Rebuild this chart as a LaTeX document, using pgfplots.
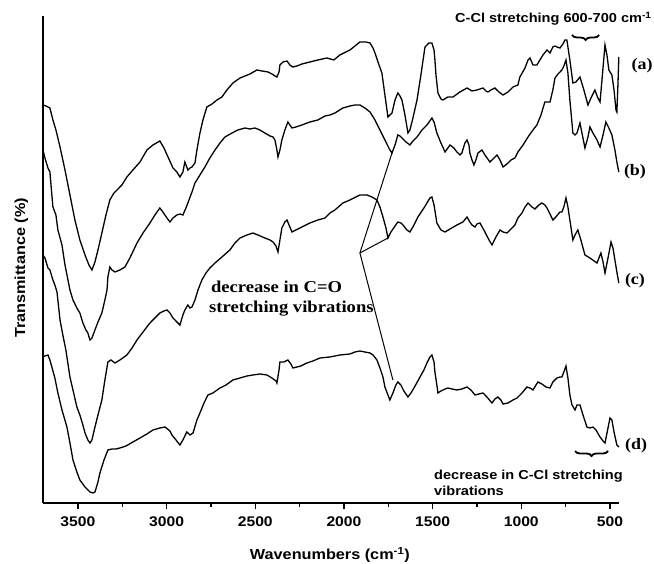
\documentclass[border=0pt]{standalone}
\usepackage{fontspec}
\setmainfont{Liberation Sans}[FakeStretch=1.12]
\newfontfamily\tms{Liberation Serif}[FakeStretch=1.12]
\usepackage{pgfplots}
\usepackage{pgfplotstable}
\pgfplotsset{compat=1.18}
\usetikzlibrary{decorations.pathreplacing}

\pgfplotstableread{
w t
3697 -105
3680 -106
3658 -108
3641 -120
3624 -130
3601 -147
3573 -170
3545 -195
3517 -220
3489 -240
3460 -255
3438 -265
3421 -270
3404 -262
3387 -250
3365 -233
3342 -215
3320 -200
3297 -193
3280 -190
3252 -185
3224 -177
3190 -170
3150 -162
3111 -150
3077 -145
3038 -141
3015 -148
2992 -157
2964 -168
2942 -172
2925 -177
2908 -172
2897 -162
2880 -170
2868 -168
2857 -167
2840 -163
2829 -150
2812 -133
2795 -120
2773 -107
2744 -104
2716 -100
2688 -97
2660 -90
2626 -83
2586 -78
2558 -76
2530 -74
2491 -70
2462 -71
2428 -72
2406 -74
2389 -76
2378 -77
2366 -72
2361 -65
2344 -62
2321 -61
2305 -65
2288 -67
2265 -66
2237 -64
2192 -62
2147 -60
2096 -58
2057 -60
2023 -55
1966 -50
1910 -42
1876 -42
1853 -43
1836 -48
1825 -53
1808 -62
1786 -73
1769 -95
1752 -117
1741 -115
1729 -113
1712 -100
1696 -93
1684 -96
1673 -100
1656 -115
1639 -133
1628 -130
1611 -118
1588 -100
1566 -75
1543 -47
1521 -43
1504 -43
1492 -50
1487 -60
1481 -75
1470 -93
1453 -99
1442 -100
1414 -97
1385 -97
1346 -92
1306 -88
1278 -91
1250 -90
1233 -89
1216 -88
1199 -91
1188 -92
1171 -90
1149 -88
1126 -92
1103 -95
1075 -92
1047 -87
1019 -85
1008 -77
979 -68
962 -60
951 -58
934 -65
912 -65
895 -60
878 -55
855 -50
838 -53
822 -47
810 -46
799 -47
782 -48
765 -44
754 -40
743 -40
737 -47
726 -60
709 -83
692 -82
669 -77
647 -90
624 -105
607 -98
585 -90
568 -98
556 -102
545 -80
528 -45
517 -55
506 -70
489 -75
477 -90
466 -110
461 -112
455 -85
450 -57
}\dataA

\pgfplotstableread{
w t
3697 -150
3686 -158
3669 -168
3658 -172
3647 -195
3641 -207
3624 -215
3613 -230
3590 -245
3573 -265
3545 -290
3528 -300
3506 -308
3489 -313
3472 -323
3455 -330
3444 -333
3432 -340
3421 -338
3404 -330
3387 -322
3365 -313
3348 -300
3336 -290
3331 -277
3320 -267
3308 -270
3291 -272
3263 -270
3235 -267
3207 -258
3167 -243
3133 -233
3094 -223
3066 -215
3038 -208
3021 -212
2998 -218
2981 -222
2964 -218
2942 -215
2925 -214
2908 -215
2891 -208
2880 -203
2857 -192
2840 -183
2812 -175
2784 -167
2756 -158
2727 -150
2699 -143
2671 -137
2631 -133
2598 -130
2558 -128
2530 -129
2502 -128
2474 -130
2446 -133
2417 -136
2400 -137
2389 -140
2378 -150
2372 -157
2361 -150
2350 -140
2333 -130
2316 -122
2305 -125
2293 -128
2271 -127
2237 -125
2192 -122
2147 -120
2107 -116
2079 -115
2051 -113
2006 -108
1966 -106
1938 -105
1910 -105
1882 -108
1853 -112
1825 -120
1797 -130
1769 -140
1741 -150
1729 -153
1712 -145
1696 -135
1684 -136
1673 -138
1650 -142
1628 -145
1611 -141
1588 -137
1560 -130
1532 -125
1504 -118
1492 -122
1476 -133
1453 -143
1430 -152
1414 -148
1402 -145
1380 -148
1363 -152
1346 -155
1335 -153
1318 -143
1306 -140
1295 -145
1290 -153
1278 -160
1267 -165
1256 -160
1244 -153
1222 -150
1205 -155
1177 -162
1154 -158
1137 -155
1120 -160
1103 -167
1081 -164
1058 -160
1036 -158
1019 -152
990 -145
962 -137
934 -130
912 -125
889 -115
867 -102
838 -102
822 -90
810 -78
793 -74
771 -70
760 -66
748 -60
737 -73
726 -100
709 -133
697 -135
686 -133
669 -123
658 -133
641 -148
624 -137
613 -127
596 -133
573 -140
556 -147
539 -135
523 -122
506 -128
489 -135
472 -150
461 -162
450 -172
}\dataB

\pgfplotstableread{
w t
3697 -255
3686 -258
3669 -268
3658 -270
3641 -280
3630 -285
3618 -292
3601 -320
3585 -335
3568 -350
3545 -377
3528 -390
3506 -407
3489 -415
3472 -425
3460 -433
3444 -440
3432 -443
3421 -440
3404 -427
3387 -415
3365 -400
3348 -380
3331 -362
3314 -360
3291 -363
3263 -360
3224 -355
3195 -348
3167 -340
3133 -332
3094 -323
3066 -318
3038 -313
3015 -311
2998 -310
2981 -313
2964 -318
2942 -322
2925 -325
2908 -315
2897 -310
2880 -305
2868 -308
2857 -307
2840 -300
2823 -290
2801 -280
2778 -273
2756 -268
2727 -263
2688 -257
2643 -250
2615 -243
2586 -238
2547 -235
2513 -233
2485 -235
2446 -238
2417 -240
2400 -242
2383 -246
2372 -252
2361 -240
2350 -228
2333 -222
2321 -220
2305 -227
2293 -232
2271 -230
2237 -227
2192 -223
2147 -220
2107 -218
2079 -213
2051 -210
2006 -203
1966 -200
1910 -195
1870 -195
1842 -197
1814 -200
1797 -207
1780 -217
1763 -228
1752 -238
1735 -232
1712 -226
1696 -222
1679 -223
1667 -225
1645 -230
1628 -232
1605 -225
1583 -217
1549 -208
1515 -198
1504 -197
1492 -205
1476 -223
1453 -230
1430 -232
1402 -229
1363 -225
1329 -222
1306 -217
1290 -222
1278 -225
1261 -227
1250 -224
1233 -223
1205 -232
1182 -240
1165 -245
1143 -237
1120 -230
1103 -232
1081 -233
1058 -229
1036 -225
1019 -218
996 -213
979 -207
962 -203
940 -207
923 -209
901 -205
884 -203
867 -205
855 -208
838 -214
822 -220
805 -217
782 -212
771 -212
760 -207
748 -198
737 -207
726 -220
709 -240
697 -235
681 -230
664 -240
641 -255
613 -258
573 -263
562 -258
551 -253
539 -262
528 -273
511 -258
494 -242
483 -248
472 -260
461 -272
450 -283
}\dataC

\pgfplotstableread{
w t
3697 -357
3686 -356
3669 -355
3658 -360
3647 -367
3630 -378
3613 -393
3590 -410
3562 -427
3545 -443
3528 -460
3506 -472
3489 -480
3460 -487
3432 -492
3415 -493
3404 -492
3387 -482
3376 -473
3353 -460
3331 -450
3308 -449
3286 -449
3263 -448
3229 -446
3190 -442
3150 -438
3111 -434
3077 -430
3038 -428
3009 -427
2981 -431
2970 -435
2947 -440
2925 -445
2908 -440
2886 -432
2868 -435
2851 -433
2829 -420
2812 -413
2789 -403
2767 -395
2739 -393
2699 -388
2665 -385
2626 -380
2586 -378
2547 -376
2513 -375
2474 -374
2434 -375
2406 -378
2383 -381
2378 -383
2366 -370
2361 -362
2338 -362
2316 -360
2299 -364
2288 -368
2265 -367
2243 -366
2209 -363
2175 -361
2135 -358
2079 -357
2023 -355
1966 -354
1938 -352
1910 -351
1882 -352
1853 -353
1836 -355
1814 -360
1797 -368
1780 -377
1769 -387
1752 -395
1741 -400
1724 -393
1707 -385
1696 -382
1679 -385
1662 -391
1639 -397
1622 -393
1599 -386
1571 -377
1549 -370
1532 -363
1515 -357
1504 -355
1492 -362
1487 -372
1476 -385
1470 -393
1453 -391
1430 -389
1414 -388
1391 -389
1363 -390
1335 -389
1306 -387
1284 -390
1261 -395
1239 -394
1216 -393
1194 -397
1165 -403
1149 -399
1132 -397
1115 -400
1103 -404
1075 -403
1047 -400
1024 -398
996 -393
968 -387
951 -388
934 -390
917 -385
906 -382
884 -384
861 -387
838 -388
822 -382
799 -378
782 -377
771 -377
760 -372
748 -366
737 -378
726 -395
714 -405
697 -410
686 -405
669 -405
652 -415
630 -427
613 -428
596 -427
579 -430
556 -437
539 -441
528 -443
511 -428
500 -418
489 -420
477 -432
461 -445
450 -447
}\dataD

\begin{document}
\begin{tikzpicture}
\useasboundingbox (0,0) rectangle (654pt,564pt);
\begin{axis}[
  at={(43pt,61pt)}, anchor=south west,
  scale only axis, width=576pt, height=487pt,
  x dir=reverse, xmin=449, xmax=3697, ymin=-503, ymax=-16,
  axis x line=bottom, axis y line=left,
  axis line style={-, line width=1.8pt, black},
  ytick=\empty,
  xtick={500,1000,...,3500}, minor xtick={750,1250,...,3250},
  tick align=outside, major tick length=6pt, minor tick length=4pt,
  tick style={line width=1.5pt, black},
  /pgf/number format/assume math mode=true,
  /pgf/number format/1000 sep={},
  xticklabel style={font=\fontsize{14}{16}\selectfont\bfseries, yshift=-4pt},
  every axis x label/.style={at={(axis description cs:0.498,-0.117)}, anchor=base, font=\fontsize{14.5}{17}\selectfont\bfseries},
  every axis y label/.style={at={(axis description cs:-0.031,0.4825)}, anchor=base, rotate=90, font=\fontsize{14.5}{17}\selectfont\bfseries},
  xlabel={Wavenumbers (cm\textsuperscript{-1})},
  ylabel={Transmittance (\%)},
  clip=false,
]
\addplot[black, line width=1.3pt, mark=none] table[x=w, y=t] {\dataA};
\addplot[black, line width=1.3pt, mark=none] table[x=w, y=t] {\dataB};
\addplot[black, line width=1.3pt, mark=none] table[x=w, y=t] {\dataC};
\addplot[black, line width=1.3pt, mark=none] table[x=w, y=t] {\dataD};

\draw[line width=1pt] (axis cs:1729,-153) -- (axis cs:1910,-253) -- (axis cs:1724,-380);
\draw[line width=1pt] (axis cs:1910,-253) -- (axis cs:1752,-238);

\node[anchor=base west, inner sep=0, font=\tms\bfseries\fontsize{16.6}{20}\selectfont] at (axis cs:2750,-293) {decrease in C=O};
\node[anchor=base west, inner sep=0, font=\tms\bfseries\fontsize{16.6}{20}\selectfont] at (axis cs:2761,-313) {stretching vibrations};

\node[anchor=base west, inner sep=0, font=\fontsize{13}{15}\selectfont\bfseries] at (axis cs:1374,-23) {C-Cl stretching 600-700 cm\textsuperscript{-1}};
\draw[line width=1.8pt, decorate, decoration={brace, amplitude=5pt}] (axis cs:561,-35) -- (axis cs:714,-35);

\draw[line width=1.8pt, decorate, decoration={brace, amplitude=5pt}] (axis cs:511,-451) -- (axis cs:697,-451);
\node[anchor=base west, inner sep=0, font=\fontsize{13}{15}\selectfont\bfseries] at (axis cs:1492,-480) {decrease in C-Cl stretching};
\node[anchor=base west, inner sep=0, font=\fontsize{13}{15}\selectfont\bfseries] at (axis cs:1492,-496) {vibrations};

\node[font=\tms\bfseries\fontsize{16}{19}\selectfont, inner sep=0] at (axis cs:319,-66) {(a)};
\node[font=\tms\bfseries\fontsize{16}{19}\selectfont, inner sep=0] at (axis cs:359,-172) {(b)};
\node[font=\tms\bfseries\fontsize{16}{19}\selectfont, inner sep=0] at (axis cs:359,-281) {(c)};
\node[font=\tms\bfseries\fontsize{16}{19}\selectfont, inner sep=0] at (axis cs:353,-446) {(d)};
\end{axis}
\end{tikzpicture}
\end{document}
